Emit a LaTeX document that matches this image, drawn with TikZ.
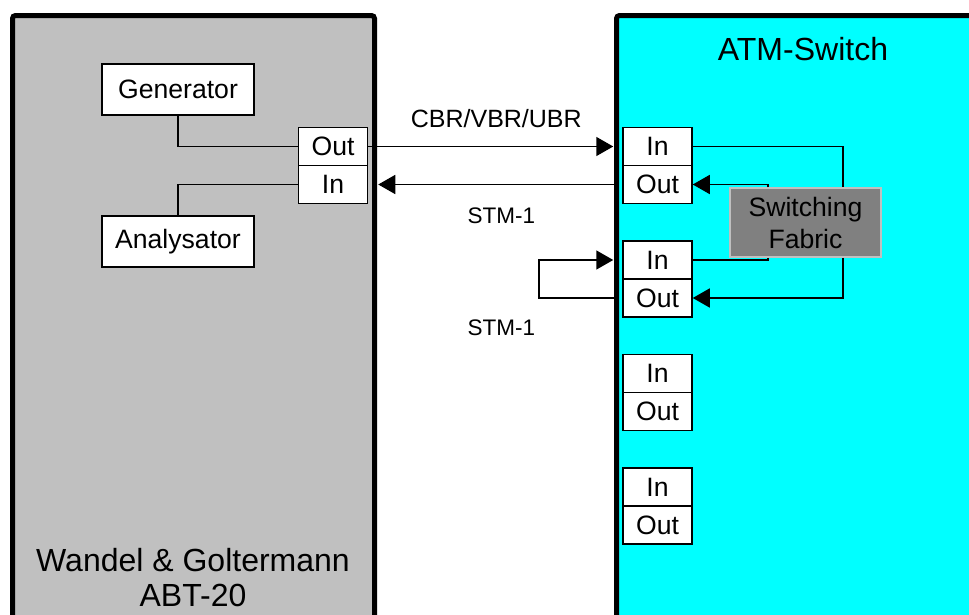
\documentclass[tikz,border=0pt]{standalone}
\usepackage{fontspec}
\setmainfont{Liberation Sans}
\usetikzlibrary{arrows.meta,positioning}
\definecolor{abtgray}{HTML}{C0C0C0}
\definecolor{switchcyan}{HTML}{00FFFF}
\definecolor{fabricgray}{HTML}{808080}
\newcommand{\labelfont}{\fontsize{26.6}{32}\selectfont}
\newcommand{\linkfont}{\fontsize{22.5}{27}\selectfont}
\newcommand{\titlefont}{\fontsize{32}{34.5}\selectfont}
\tikzset{
  device/.style={draw=black, line width=5pt, rounded corners=3pt},
  port/.style={draw=black, fill=white, line width=1.5pt, minimum width=69pt, minimum height=38pt, inner sep=0pt, font=\labelfont},
  unitbox/.style={draw=black, fill=white, line width=1.5pt, minimum width=152pt, minimum height=51pt, inner sep=0pt, font=\labelfont},
  fabricbox/.style={draw=abtgray, fill=fabricgray, line width=1.5pt, minimum width=151pt, minimum height=69pt, align=center, inner sep=0pt, font=\labelfont},
  wire/.style={black, line width=1.6pt},
  signal/.style={wire, -{Triangle[length=17pt,width=19pt]}},
  linklabel/.style={anchor=base, font=\linkfont},
  titlelabel/.style={anchor=base, align=center, font=\titlefont}
}
\begin{document}
\begin{tikzpicture}[x=1pt,y=-1pt]
  \useasboundingbox (0,0) rectangle (969,614);
  \fill[white] (0,0) rectangle (969,614);
  \begin{scope}
    \clip (0,0) rectangle (969,614);
    \draw[device, fill=abtgray] (12.5,15.5) rectangle (374.5,650);
    \draw[device, fill=switchcyan] (616.5,15.5) rectangle (1010,650);
  \end{scope}
  \node[titlelabel] (atmtitle) at (803,60.7) {ATM-Switch};
  \node[titlelabel] (abttitle) at (193,606) {Wandel \& Goltermann\\ABT-20};
  % tester
  \node[unitbox] (gen) at (178,89.5) {Generator};
  \node[unitbox] (ana) at (178,241.5) {Analysator};
  \node[port] (outL) at (333,146.5) {Out};
  \node[port] (inL) at (333,184.5) {In};
  % switch ports
  \foreach \k/\yy in {1/146.5,2/260,3/373.5,4/487}{
    \node[port] (in\k) at (657.5,\yy) {In};
    \node[port] (out\k) at (657.5,\yy+38) {Out};
  }
  \node[fabricbox] (fab) at (805.5,222.5) {Switching\\Fabric};
  \draw[wire] (gen.south) |- (outL.west);
  \draw[wire] (ana.north) |- (inL.west);
  \draw[signal, shorten >=9pt] (outL.east) -- (in1.west);
  \draw[signal, shorten <=4pt, shorten >=10pt] (out1.west) -- (inL.east);
  \draw[signal, shorten <=4pt, shorten >=9pt] (out2.west) -- ++(-83,0) |- (in2.west);
  \draw[wire] (in1.east) -| ([xshift=37.5pt]fab.north);
  \draw[signal] ([xshift=-37.5pt]fab.north) |- (out1.east);
  \draw[wire] (in2.east) -| ([xshift=-37.5pt]fab.south);
  \draw[signal] ([xshift=37.5pt]fab.south) |- (out2.east);
  \node[linklabel, font=\fontsize{25}{30}\selectfont] (cbrlabel) at (496.3,127.7) {CBR/VBR/UBR};
  \node[linklabel] (stmlabel1) at (501.3,223.3) {STM-1};
  \node[linklabel] (stmlabel2) at (501.3,335.3) {STM-1};
\end{tikzpicture}
\end{document}
